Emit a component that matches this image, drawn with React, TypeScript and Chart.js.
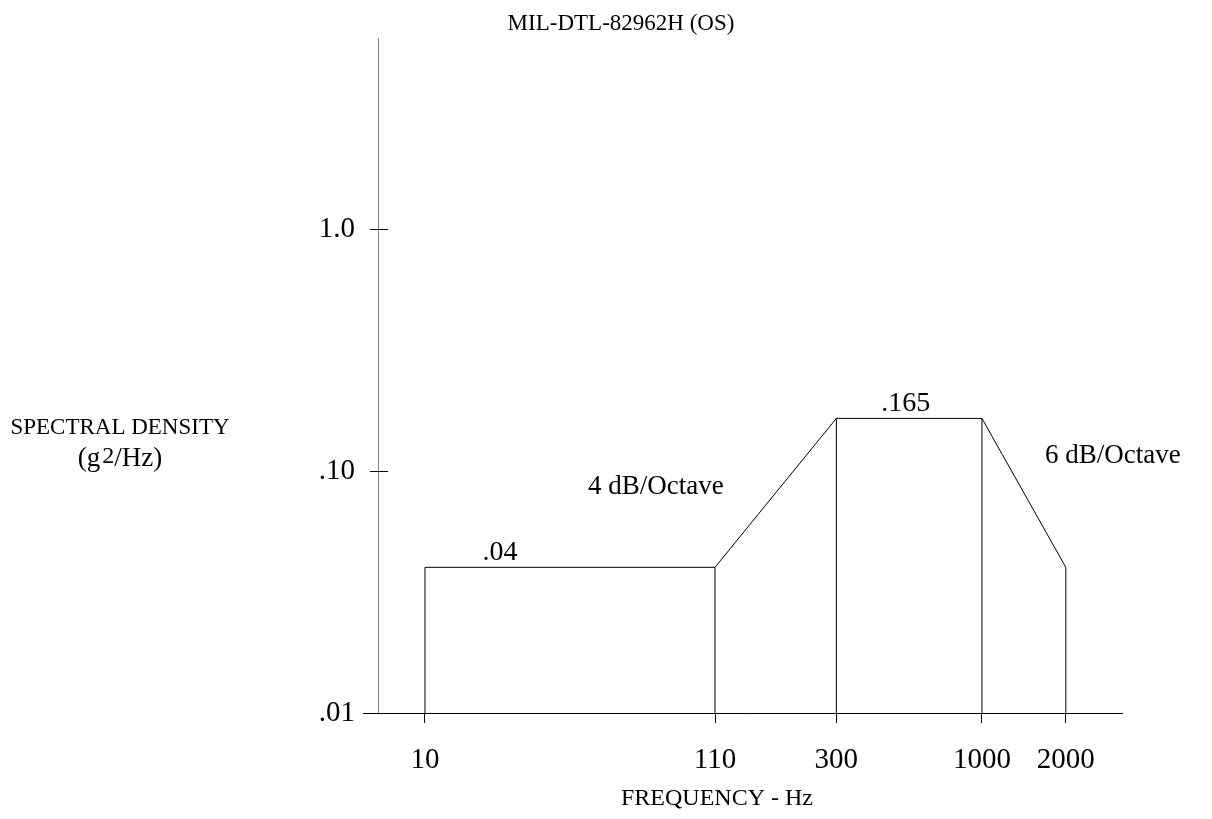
import { useEffect, useRef } from "react";
import { Chart, registerables } from "chart.js";

Chart.register(...registerables);

// ---- data ----
const frequencies = [10, 110, 300, 1000, 2000];
const spectralDensity = [0.04, 0.04, 0.165, 0.165, 0.04];

const xTickValues = [10, 110, 300, 1000, 2000];
const xTickLabels = ["10", "110", "300", "1000", "2000"];
const yTickValues = [0.01, 0.1, 1];
const yTickLabels = [".01", ".10", "1.0"];

const levelLabels = [".04", ".165"];
const levelLabelFreqs = [18.6, 533];
const levelLabelValues = [0.04, 0.165];

const slopeLabels = ["4 dB/Octave", "6 dB/Octave"];
const slopeLabelFreqs = [38.5, 1684];
const slopeLabelValues = [0.0803, 0.108];

const chartTitle = "MIL-DTL-82962H (OS)";
const xAxisTitle = "FREQUENCY - Hz";
const yAxisTitle = "SPECTRAL DENSITY";

const X_MIN = 6.78;
const X_MAX = 3183;
const Y_MIN = 0.01;
const Y_MAX = 6.16;

const FONT = "'Liberation Serif', 'Times New Roman', Times, serif";

const figureText = {
  id: "figureText",
  afterDraw(chart: any) {
    const { ctx, chartArea } = chart;
    const x = chart.scales.x;
    const y = chart.scales.y;
    ctx.save();
    ctx.strokeStyle = "#000";
    ctx.lineWidth = 1;
    // inward half of y ticks
    yTickValues.forEach((v) => {
      const py = Math.round(y.getPixelForValue(v)) + 0.5;
      ctx.beginPath();
      ctx.moveTo(chartArea.left, py);
      ctx.lineTo(chartArea.left + 10, py);
      ctx.stroke();
    });
    // x axis extension left of the y axis
    const by = Math.round(chartArea.bottom) + 0.5;
    ctx.beginPath();
    ctx.moveTo(chartArea.left - 15, by);
    ctx.lineTo(chartArea.left, by);
    ctx.stroke();

    ctx.fillStyle = "#000";
    ctx.textBaseline = "alphabetic";

    // title
    ctx.font = `23px ${FONT}`;
    ctx.textAlign = "center";
    ctx.fillText(chartTitle, 621, 30);

    // y axis title
    ctx.font = `23px ${FONT}`;
    ctx.textAlign = "center";
    ctx.fillText(yAxisTitle, 120, 434);
    ctx.textAlign = "left";
    const p1 = "(g";
    const p2 = "2";
    const p3 = "/Hz)";
    ctx.font = `27px ${FONT}`;
    const w1 = ctx.measureText(p1).width;
    const w3 = ctx.measureText(p3).width;
    ctx.font = `24px ${FONT}`;
    const w2 = ctx.measureText(p2).width;
    const sx = 120 - (w1 + w2 + w3 + 2) / 2;
    ctx.font = `27px ${FONT}`;
    ctx.fillText(p1, sx, 466);
    ctx.fillText(p3, sx + w1 + 2 + w2, 466);
    ctx.font = `24px ${FONT}`;
    ctx.fillText(p2, sx + w1 + 2, 463);

    // x axis title
    ctx.font = `24px ${FONT}`;
    ctx.textAlign = "center";
    ctx.fillText(xAxisTitle, 717, 805);

    // level labels
    ctx.font = `28px ${FONT}`;
    ctx.textAlign = "center";
    levelLabels.forEach((t, i) => {
      const px = x.getPixelForValue(levelLabelFreqs[i]);
      const py = y.getPixelForValue(levelLabelValues[i]);
      ctx.fillText(t, px, py - 7);
    });

    // slope labels
    ctx.font = `27px ${FONT}`;
    ctx.textAlign = "left";
    slopeLabels.forEach((t, i) => {
      const px = x.getPixelForValue(slopeLabelFreqs[i]);
      const py = y.getPixelForValue(slopeLabelValues[i]);
      ctx.fillText(t, px, py);
    });
    ctx.restore();
  },
};

export default function App() {
  const ref = useRef<HTMLCanvasElement | null>(null);

  useEffect(() => {
    document.body.style.margin = "0";
    const canvas = ref.current;
    if (!canvas) return;

    const profile = {
      label: "PSD",
      data: frequencies.map((f, i) => ({ x: f, y: spectralDensity[i] })),
      borderColor: "#000",
      borderWidth: 1,
      pointRadius: 0,
      fill: false,
      tension: 0,
    };
    const drops = frequencies.map((f, i) => ({
      label: "drop" + i,
      data: [
        { x: f, y: Y_MIN },
        { x: f, y: spectralDensity[i] },
      ],
      borderColor: "#000",
      borderWidth: 1,
      pointRadius: 0,
      fill: false,
    }));

    const chart = new Chart(canvas, {
      type: "line",
      data: { datasets: [profile, ...drops] as any },
      options: {
        animation: false,
        responsive: false,
        maintainAspectRatio: false,
        devicePixelRatio: 1,
        layout: { padding: { left: 0, right: 90, top: 38, bottom: 0 } },
        plugins: {
          legend: { display: false },
          tooltip: { enabled: false },
          title: { display: false },
        },
        scales: {
          x: {
            type: "logarithmic",
            min: X_MIN,
            max: X_MAX,
            afterBuildTicks: (s: any) => {
              s.ticks = xTickValues.map((v) => ({ value: v }));
            },
            afterFit: (s: any) => {
              s.height = 106;
            },
            ticks: {
              autoSkip: false,
              maxRotation: 0,
              minRotation: 0,
              padding: 20,
              color: "#000",
              font: { family: FONT, size: 29 },
              callback: (_v: any, i: number) => xTickLabels[i],
            },
            grid: {
              drawOnChartArea: false,
              drawTicks: true,
              tickLength: 10,
              color: "#000",
            },
            border: { display: true, color: "#000", width: 1 },
          },
          y: {
            type: "logarithmic",
            min: Y_MIN,
            max: Y_MAX,
            afterBuildTicks: (s: any) => {
              s.ticks = yTickValues.map((v) => ({ value: v }));
            },
            afterFit: (s: any) => {
              s.width = 378;
            },
            ticks: {
              autoSkip: false,
              padding: 15,
              color: "#000",
              font: { family: FONT, size: 29 },
              callback: (_v: any, i: number) => yTickLabels[i],
            },
            grid: {
              drawOnChartArea: false,
              drawTicks: true,
              tickLength: 8,
              color: "#000",
            },
            border: { display: true, color: "#808080", width: 1 },
          },
        },
      } as any,
      plugins: [figureText],
    });

    return () => chart.destroy();
  }, []);

  return (
    <div style={{ width: 1212, height: 819, background: "#fff" }}>
      <canvas ref={ref} width={1212} height={819} style={{ display: "block", width: 1212, height: 819 }} />
    </div>
  );
}
